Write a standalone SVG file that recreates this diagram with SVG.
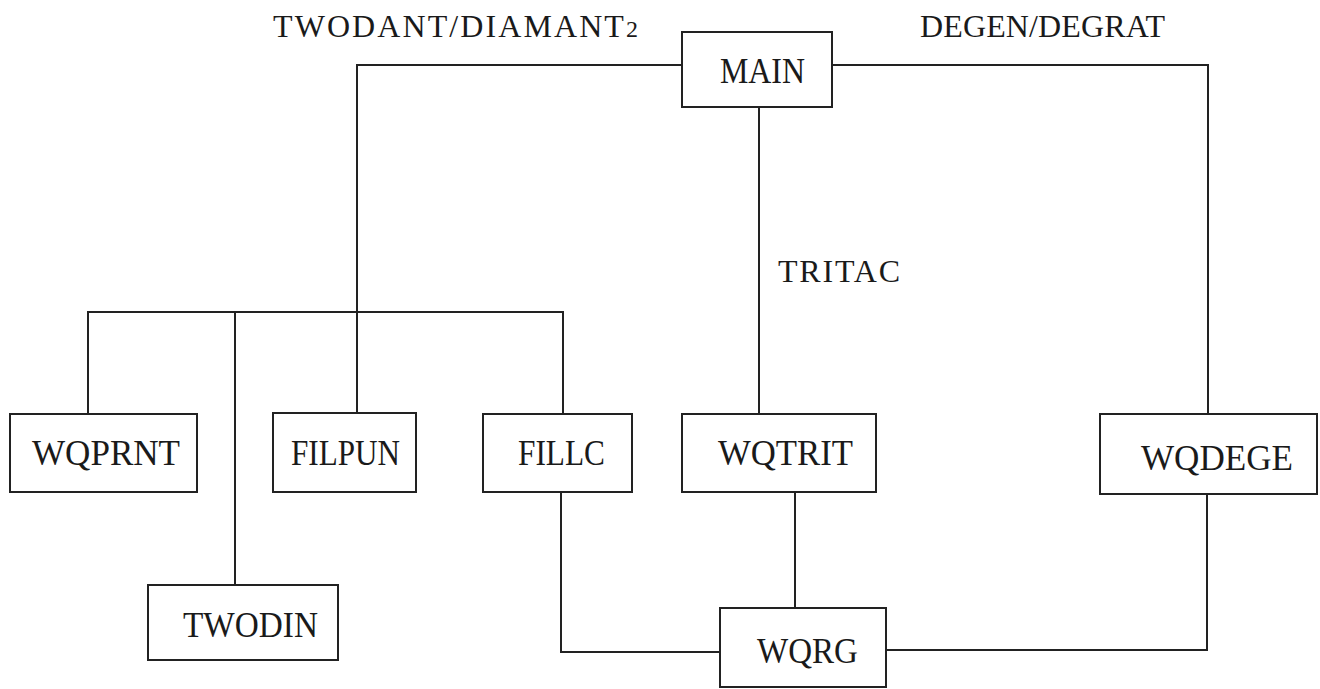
<svg xmlns="http://www.w3.org/2000/svg" width="1320" height="689" viewBox="0 0 1320 689">
<style>
.box{fill:#fff;stroke:#222;stroke-width:2}
.lbl{font-family:'Liberation Serif','Times New Roman',serif;font-size:35px;fill:#1a1a1a}
.cap{font-family:'Liberation Serif','Times New Roman',serif;font-size:32px;fill:#1a1a1a}
.ln{fill:none;stroke:#222;stroke-width:2}
</style>
<rect width="1320" height="689" fill="#fff"/>
<g id="connectors">
<path class="ln" d="M682 65 H357 V413"/>
<path class="ln" d="M832 65 H1208 V414"/>
<path class="ln" d="M759 107 V414"/>
<path class="ln" d="M88 414 V312 H563 V414"/>
<path class="ln" d="M235 312 V585"/>
<path class="ln" d="M561 492 V652 H720"/>
<path class="ln" d="M795 492 V608"/>
<path class="ln" d="M886 650 H1207 V494"/>
</g>
<g id="labels">
<text class="cap" x="273" y="37" textLength="365" lengthAdjust="spacing">TWODANT/DIAMANT<tspan font-size="24">2</tspan></text>
<text class="cap" x="920" y="37" textLength="245" lengthAdjust="spacing">DEGEN/DEGRAT</text>
<text class="cap" x="778" y="282" textLength="122" lengthAdjust="spacing">TRITAC</text>
</g>
<g id="MAIN"><rect class="box" x="682" y="32" width="150" height="75"/><text class="lbl" x="720" y="83" textLength="85" lengthAdjust="spacingAndGlyphs">MAIN</text></g>
<g id="WQPRNT"><rect class="box" x="10" y="414" width="187" height="78"/><text class="lbl" x="32" y="465" textLength="148" lengthAdjust="spacingAndGlyphs">WQPRNT</text></g>
<g id="FILPUN"><rect class="box" x="273" y="413" width="143" height="79"/><text class="lbl" x="291" y="465" textLength="109" lengthAdjust="spacingAndGlyphs">FILPUN</text></g>
<g id="FILLC"><rect class="box" x="483" y="414" width="149" height="78"/><text class="lbl" x="518" y="465" textLength="87" lengthAdjust="spacingAndGlyphs">FILLC</text></g>
<g id="WQTRIT"><rect class="box" x="682" y="414" width="194" height="78"/><text class="lbl" x="718" y="465" textLength="135" lengthAdjust="spacingAndGlyphs">WQTRIT</text></g>
<g id="WQDEGE"><rect class="box" x="1100" y="414" width="217" height="80"/><text class="lbl" x="1141" y="470" textLength="152" lengthAdjust="spacingAndGlyphs">WQDEGE</text></g>
<g id="TWODIN"><rect class="box" x="148" y="585" width="190" height="75"/><text class="lbl" x="183" y="637" textLength="135" lengthAdjust="spacingAndGlyphs">TWODIN</text></g>
<g id="WQRG"><rect class="box" x="720" y="608" width="166" height="79"/><text class="lbl" x="757" y="663" textLength="101" lengthAdjust="spacingAndGlyphs">WQRG</text></g>
</svg>
